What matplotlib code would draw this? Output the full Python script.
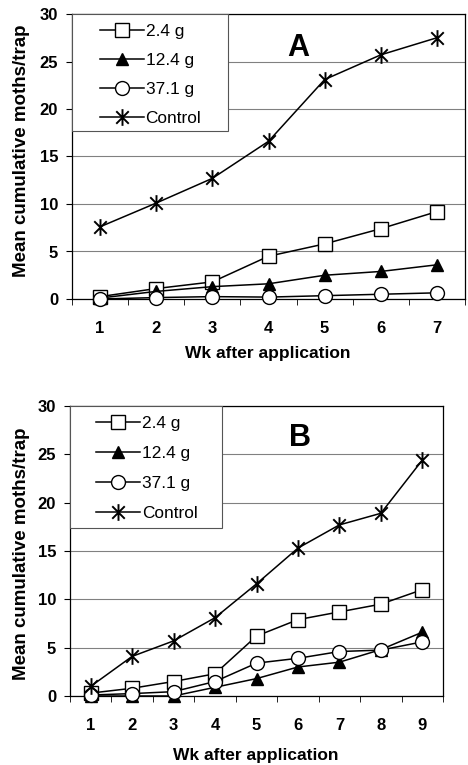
import matplotlib.pyplot as plt
from matplotlib.path import Path
from matplotlib.patches import Rectangle

plt.rcParams['font.family'] = ['Liberation Sans', 'DejaVu Sans']

weeks_a = [1, 2, 3, 4, 5, 6, 7]
a_24 = [0.25, 1.1, 1.8, 4.5, 5.8, 7.4, 9.2]
a_124 = [0.1, 0.8, 1.3, 1.6, 2.5, 2.9, 3.6]
a_371 = [0.0, 0.15, 0.25, 0.2, 0.35, 0.5, 0.65]
a_ctrl = [7.6, 10.1, 12.7, 16.6, 23.1, 25.7, 27.5]

weeks_b = [1, 2, 3, 4, 5, 6, 7, 8, 9]
b_24 = [0.3, 0.8, 1.5, 2.3, 6.2, 7.9, 8.7, 9.5, 11.0]
b_124 = [0.0, 0.0, 0.0, 0.9, 1.8, 3.0, 3.5, 4.8, 6.6]
b_371 = [0.1, 0.25, 0.45, 1.5, 3.4, 3.9, 4.6, 4.75, 5.6]
b_ctrl = [1.0, 4.1, 5.7, 8.1, 11.6, 15.3, 17.7, 18.9, 24.4]

labels = ['2.4 g', '12.4 g', '37.1 g', 'Control']

# asterisk like Excel: an X with a vertical bar
star = Path([(0, -1), (0, 1), (-0.75, -0.75), (0.75, 0.75), (-0.75, 0.75), (0.75, -0.75)],
            [Path.MOVETO, Path.LINETO, Path.MOVETO, Path.LINETO, Path.MOVETO, Path.LINETO])

fig = plt.figure(figsize=(4.68, 7.65), dpi=100)
ax_a = fig.add_axes([72/468, 1-299/765, 393/468, 285/765])
ax_b = fig.add_axes([70/468, 1-696/765, 373/468, 290/765])


def draw(ax, weeks, series, letter, letter_xy, leg_box, leg_anchor, spacing,
         ylab_xy, xlab_xy):
    styles = [
        dict(marker='s', mfc='white', ms=10),
        dict(marker='^', mfc='black', ms=9),
        dict(marker='o', mfc='white', ms=10),
        dict(marker=star, mfc='black', ms=12, mew=1.4),
    ]
    for ys, lab, st in zip(series, labels, styles):
        ax.plot(weeks, ys, color='black', lw=1.1, mec='black', label=lab,
                zorder=3, clip_on=False, **st)
    ax.set_xlim(0.5, len(weeks) + 0.5)
    ax.set_ylim(0, 30)
    ax.set_yticks(range(0, 31, 5))
    ax.set_xticks(weeks)
    ax.set_xticks([w + 0.5 for w in [0] + weeks], minor=True)
    ax.tick_params(axis='x', which='major', length=0, pad=16)
    ax.tick_params(axis='x', which='minor', length=4, direction='out')
    ax.tick_params(axis='y', length=4, direction='out', pad=6)
    for lbl in ax.get_xticklabels() + ax.get_yticklabels():
        lbl.set_fontweight('bold')
        lbl.set_fontsize(12)
    ax.grid(axis='y', color='#808080', lw=0.8)
    ax.set_axisbelow(True)
    for s in ax.spines.values():
        s.set_linewidth(0.9)
    ax.set_ylabel('Mean cumulative moths/trap', fontsize=13.5, fontweight='bold')
    ax.yaxis.set_label_coords(*ylab_xy)
    ax.set_xlabel('Wk after application', fontsize=12.5, fontweight='bold')
    ax.xaxis.set_label_coords(*xlab_xy)

    # legend box drawn as a white rectangle, legend itself without frame
    x0, y0 = leg_box
    ax.add_patch(Rectangle((0, y0), x0, 1 - y0, transform=ax.transAxes,
                           facecolor='white', edgecolor='#555555', lw=0.8,
                           zorder=4, clip_on=False))
    leg = ax.legend(loc='upper left', bbox_to_anchor=leg_anchor, borderaxespad=0,
                    borderpad=0, frameon=False, fontsize=12.4, labelspacing=spacing,
                    handlelength=2.55, handletextpad=0.1)
    leg.set_zorder(5)
    ax.text(letter_xy[0], letter_xy[1], letter, transform=ax.transAxes, fontsize=22,
            fontweight='bold', ha='center', va='center')


draw(ax_a, weeks_a, [a_24, a_124, a_371, a_ctrl], 'A', (0.575, 0.88),
     (0.397, 0.589), (0.071, 0.964), 0.8, (-0.107, 0.52), (0.497, -0.165))
draw(ax_b, weeks_b, [b_24, b_124, b_371, b_ctrl], 'B', (0.617, 0.888),
     (0.4075, 0.579), (0.07, 0.9655), 0.87, (-0.108, 0.49), (0.499, -0.179))

fig.savefig('out.png', dpi=100)
